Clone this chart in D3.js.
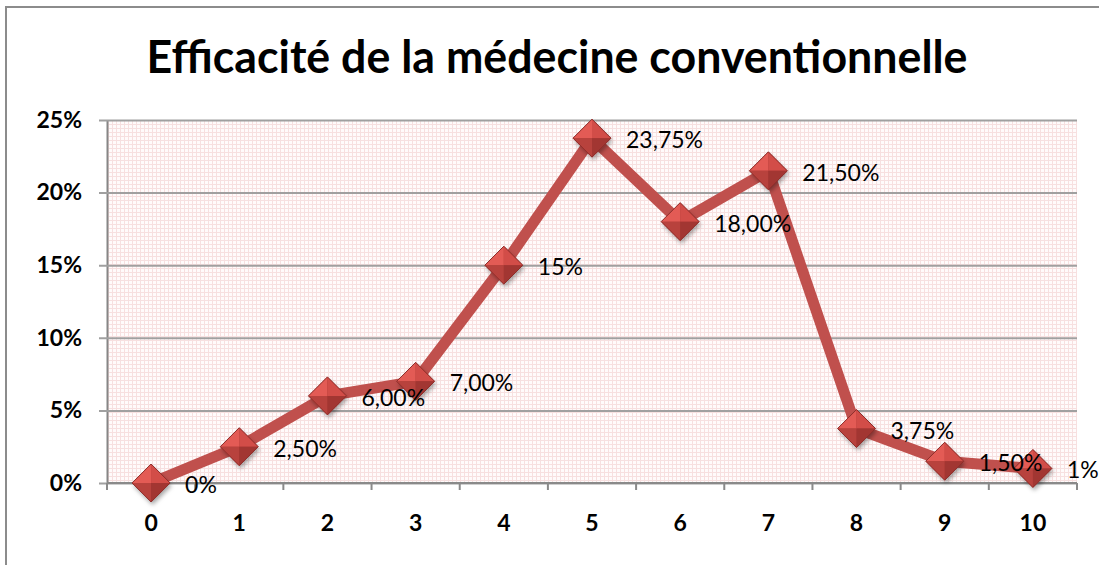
<!DOCTYPE html>
<html>
<head>
<meta charset="utf-8">
<script src="https://cdn.jsdelivr.net/npm/d3@7/dist/d3.min.js"></script>
<style>
  body { margin: 0; background: #fff; }
  svg { display: block; font-family: Lato, "Open Sans", sans-serif; }
</style>
</head>
<body>
<div id="chart"></div>
<script>
const categories = ['0', '1', '2', '3', '4', '5', '6', '7', '8', '9', '10'];
const values = [0, 0.025, 0.06, 0.07, 0.15, 0.2375, 0.18, 0.215, 0.0375, 0.015, 0.01];
const valueLabels = ['0%', '2,50%', '6,00%', '7,00%', '15%', '23,75%', '18,00%', '21,50%', '3,75%', '1,50%', '1%'];
const yTicks = [0, 0.05, 0.10, 0.15, 0.20, 0.25];
const yTickLabels = ['0%', '5%', '10%', '15%', '20%', '25%'];
const title = 'Efficacité de la médecine conventionnelle';

const W = 1099, H = 565;
const plot = {left: 107, right: 1077, top: 120, bottom: 483};

const svg = d3.select('#chart').append('svg').attr('width', W).attr('height', H);
const defs = svg.append('defs');

// pink fine grid fill of the plot area
const pat = defs.append('pattern').attr('id', 'pinkgrid').attr('patternUnits', 'userSpaceOnUse')
    .attr('width', 4).attr('height', 4);
pat.append('rect').attr('width', 4).attr('height', 4).attr('fill', '#fffbfb');
pat.append('path').attr('d', 'M0,0.5H4M0.5,0V4').attr('stroke', '#f7e0e0').attr('stroke-width', 1);

const shadow = defs.append('filter').attr('id', 'shadow').attr('x', '-50%').attr('y', '-50%').attr('width', '200%').attr('height', '200%');
shadow.append('feDropShadow').attr('dx', 1.5).attr('dy', 3).attr('stdDeviation', 2)
    .attr('flood-color', '#000').attr('flood-opacity', 0.35);

// outer chart border (only left and top visible in the frame)
svg.append('path').attr('d', `M6,${H}V7H${W}`).attr('fill', 'none').attr('stroke', '#8c8c8c').attr('stroke-width', 2);

svg.append('text').text(title)
    .attr('x', 557).attr('y', 73).attr('text-anchor', 'middle')
    .attr('font-size', 46).attr('font-weight', 'bold').attr('fill', '#000')
    .attr('textLength', 821).attr('lengthAdjust', 'spacingAndGlyphs');

const x = d3.scaleBand().domain(categories).range([plot.left, plot.right]).padding(0);
const y = d3.scaleLinear().domain([0, 0.25]).range([plot.bottom, plot.top]);
const cx = c => x(c) + x.bandwidth() / 2;

svg.append('rect').attr('x', plot.left).attr('y', plot.top)
    .attr('width', plot.right - plot.left).attr('height', plot.bottom - plot.top)
    .attr('fill', 'url(#pinkgrid)');

// gridlines + y axis
const yAxis = svg.append('g').attr('transform', `translate(${plot.left},0)`)
    .call(d3.axisLeft(y).tickValues(yTicks).tickFormat((d, i) => yTickLabels[i])
        .tickSizeInner(-(plot.right - plot.left)).tickSizeOuter(0).tickPadding(25));
yAxis.select('.domain').attr('stroke', '#868686').attr('stroke-width', 2);
yAxis.selectAll('.tick line').attr('stroke', '#a0a0a0').attr('stroke-width', 2).attr('x1', -8);
yAxis.selectAll('.tick text').attr('font-size', 23).attr('font-weight', 'bold').attr('fill', '#000')
    .attr('font-family', 'Lato, "Open Sans", sans-serif');

// x axis with ticks at band boundaries
const xAxis = svg.append('g').attr('transform', `translate(0,${plot.bottom})`)
    .call(d3.axisBottom(x).tickSize(0).tickPadding(32));
xAxis.select('.domain').remove();
xAxis.selectAll('.tick text').attr('font-size', 23).attr('font-weight', 'bold').attr('fill', '#000')
    .attr('font-family', 'Lato, "Open Sans", sans-serif');
const bounds = categories.map(c => x(c)).concat([x.range()[1]]);
svg.append('line').attr('x1', plot.left).attr('x2', plot.right).attr('y1', plot.bottom).attr('y2', plot.bottom)
    .attr('stroke', '#8a8a8a').attr('stroke-width', 2);
svg.selectAll('.xtick').data(bounds).join('line').attr('class', 'xtick')
    .attr('x1', d => d).attr('x2', d => d).attr('y1', plot.bottom).attr('y2', plot.bottom + 7)
    .attr('stroke', '#8a8a8a').attr('stroke-width', 2);

// series line
const line = d3.line().x((d, i) => cx(categories[i])).y(d => y(d));
svg.append('path').datum(values).attr('d', line)
    .attr('fill', 'none').attr('stroke', '#c0504d').attr('stroke-width', 11)
    .attr('stroke-linejoin', 'round');

// bevelled diamond markers
const r = 19;
const mk = svg.selectAll('.mk').data(values).join('g').attr('class', 'mk')
    .attr('transform', (d, i) => `translate(${cx(categories[i])},${y(d)})`);
mk.append('path').attr('d', `M0,${-r}L${r},0L0,${r}L${-r},0Z`)
    .attr('fill', '#a93a36').attr('filter', 'url(#shadow)');
const facets = [
  {d: `M0,${-r}L${-r},0L0,0Z`, f: '#e35b55'},
  {d: `M0,${-r}L${r},0L0,0Z`, f: '#d24d48'},
  {d: `M${-r},0L0,${r}L0,0Z`, f: '#b8423d'},
  {d: `M${r},0L0,${r}L0,0Z`, f: '#a23632'}
];
facets.forEach(fc => mk.append('path').attr('d', fc.d).attr('fill', fc.f));
mk.append('path').attr('d', `M0,${-r}L${r},0L0,${r}L${-r},0Z`)
    .attr('fill', 'none').attr('stroke', '#8e2e2b').attr('stroke-width', 1);

// data labels
svg.selectAll('.lbl').data(values).join('text').attr('class', 'lbl')
    .attr('x', (d, i) => cx(categories[i]) + 34).attr('y', d => y(d) + 1)
    .attr('dominant-baseline', 'central')
    .attr('font-size', 23).attr('fill', '#000')
    .text((d, i) => valueLabels[i]);
</script>
</body>
</html>
